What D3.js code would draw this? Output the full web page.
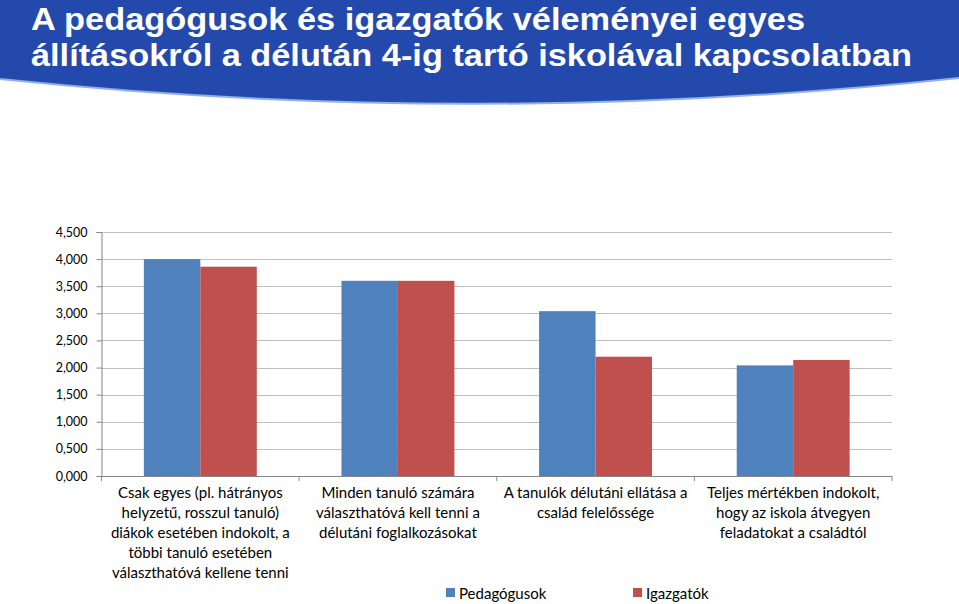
<!DOCTYPE html>
<html><head><meta charset="utf-8">
<script src="https://cdn.jsdelivr.net/npm/d3@7"></script>
<style>html,body{margin:0;padding:0;background:#fff;overflow:hidden}</style>
</head><body>
<svg id="c" width="959" height="604"></svg>
<script>
const titleLines = ["A pedagógusok és igazgatók véleményei egyes", "állításokról a délután 4-ig tartó iskolával kapcsolatban"];
const categories = [
  ["Csak egyes (pl. hátrányos", "helyzetű, rosszul tanuló)", "diákok esetében indokolt, a", "többi tanuló esetében", "választhatóvá kellene tenni"],
  ["Minden tanuló számára", "választhatóvá kell tenni a", "délutáni foglalkozásokat"],
  ["A tanulók délutáni ellátása a", "család felelőssége"],
  ["Teljes mértékben indokolt,", "hogy az iskola átvegyen", "feladatokat a családtól"]
];
const seriesNames = ["Pedagógusok", "Igazgatók"];
const pedagogusok = [4.00, 3.60, 3.04, 2.04];
const igazgatok = [3.86, 3.60, 2.20, 2.14];
const yTicks = [0, 0.5, 1, 1.5, 2, 2.5, 3, 3.5, 4, 4.5];
const colors = ["#4F81BD", "#C0504D"];

const svg = d3.select("#c");
// banner
svg.append("path").attr("d", "M0,0H959V79Q479,130 0,80Z").attr("fill", "#8fb0e8");
svg.append("path").attr("d", "M0,0H959V77Q479,128 0,78Z").attr("fill", "#2449AD");
const tW = [774, 881];
titleLines.forEach((t, i) => {
  svg.append("text").attr("x", 31).attr("y", 30 + i * 36)
    .attr("font-family", "Liberation Sans, Arial, sans-serif").attr("font-weight", "bold")
    .attr("font-size", 31).attr("fill", "#fff")
    .attr("textLength", tW[i]).attr("lengthAdjust", "spacingAndGlyphs").text(t);
});

const L = 101.5, R = 892, T = 232, B = 476;
const x0 = d3.scaleBand().domain(d3.range(categories.length)).range([L, R]).paddingInner(0).paddingOuter(0);
const x1 = d3.scaleBand().domain([0, 1]).range([0, x0.bandwidth()]).paddingInner(0).paddingOuter(0.75);
const y = d3.scaleLinear().domain([0, 4.5]).range([B, T]);

// gridlines
svg.append("g").selectAll("line").data(yTicks.filter(d => d > 0)).join("line")
  .attr("x1", L).attr("x2", R).attr("y1", d => Math.round(y(d)) + 0.5).attr("y2", d => Math.round(y(d)) + 0.5)
  .attr("stroke", "#BFBFBF").attr("stroke-width", 1.2);

// bars
const data = categories.map((c, i) => [pedagogusok[i], igazgatok[i]]);
const g = svg.append("g");
data.forEach((vals, i) => {
  g.selectAll(null).data(vals).join("rect")
    .attr("x", (d, j) => x0(i) + x1(j)).attr("width", x1.bandwidth())
    .attr("y", d => y(d)).attr("height", d => B - y(d)).attr("fill", (d, j) => colors[j]);
});

// y axis
const fmt = d => d3.format(".3f")(d).replace(".", ",");
const ya = svg.append("g").attr("transform", `translate(${L},0)`)
  .call(d3.axisLeft(y).tickValues(yTicks).tickFormat(fmt).tickSize(5).tickPadding(9));
ya.select(".domain").attr("stroke", "#868686");
ya.selectAll(".tick line").attr("stroke", "#868686");
ya.selectAll("text").attr("font-family", "Lato, Carlito, sans-serif").attr("font-size", 12.5).attr("fill", "#000");

// x axis
const xa = svg.append("g").attr("transform", `translate(0,${B})`);
xa.append("line").attr("x1", L).attr("x2", R).attr("y1", 0.5).attr("y2", 0.5).attr("stroke", "#868686");
xa.selectAll(".tk").data(d3.range(categories.length + 1)).join("line")
  .attr("x1", d => d < categories.length ? x0(d) : R).attr("x2", d => d < categories.length ? x0(d) : R)
  .attr("y1", 0).attr("y2", 5).attr("stroke", "#868686");
categories.forEach((lines, i) => {
  const t = svg.append("text").attr("text-anchor", "middle")
    .attr("font-family", "Lato, Carlito, sans-serif").attr("font-size", 15).attr("fill", "#000");
  lines.forEach((ln, k) => t.append("tspan").attr("x", x0(i) + x0.bandwidth() / 2).attr("y", 498 + k * 20).text(ln));
});

// legend
const legX = [446, 633];
seriesNames.forEach((n, i) => {
  svg.append("rect").attr("x", legX[i]).attr("y", 588).attr("width", 9).attr("height", 9).attr("fill", colors[i]);
  svg.append("text").attr("x", legX[i] + 13).attr("y", 598.5)
    .attr("font-family", "Lato, Carlito, sans-serif").attr("font-size", 15).attr("fill", "#000").text(n);
});
</script>
</body></html>
